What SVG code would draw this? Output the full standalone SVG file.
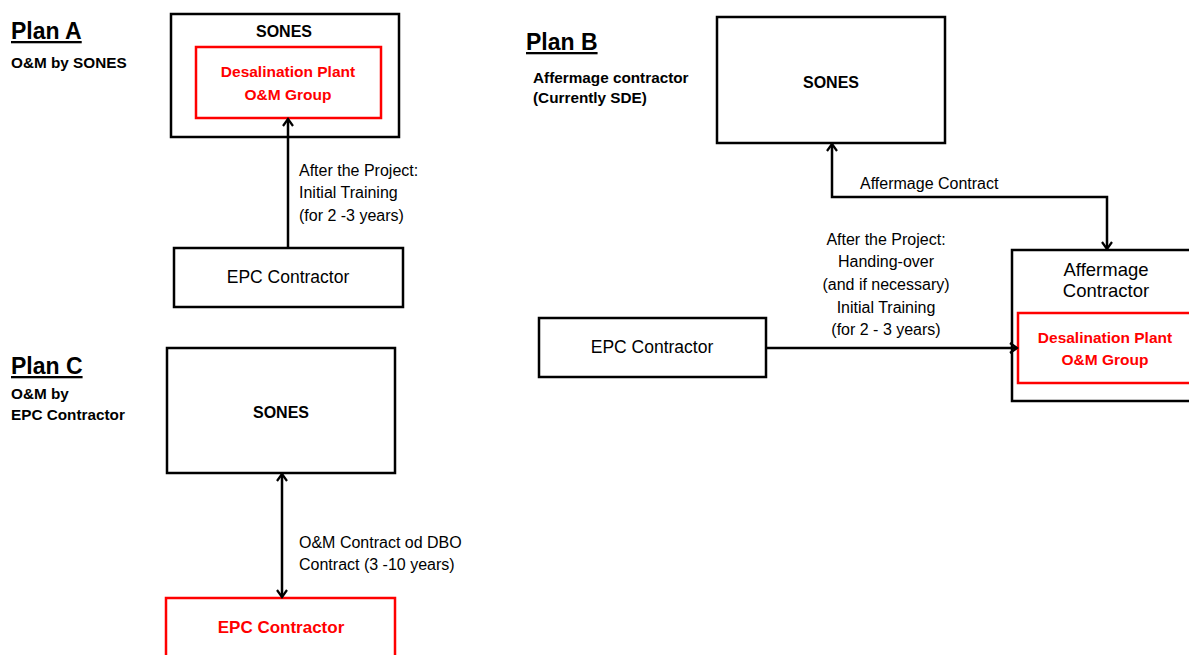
<svg xmlns="http://www.w3.org/2000/svg" width="1189" height="655" viewBox="0 0 1189 655">
  <style>
    .box { fill: #fff; stroke: #000; stroke-width: 2.5; }
    .rbox { fill: #fff; stroke: #ff0000; stroke-width: 2.5; }
    .t { font-family: "Liberation Sans", Arial, sans-serif; fill: #000; }
    .title { font-size: 23px; font-weight: bold; text-decoration: underline; }
    .sub { font-size: 15.3px; font-weight: bold; }
    .name { font-size: 16px; font-weight: bold; text-anchor: middle; }
    .red { font-size: 15.5px; font-weight: bold; fill: #ff0000; text-anchor: middle; }
    .node { font-size: 17.5px; text-anchor: middle; }
    .lbl { font-size: 16px; }
    .lblc { font-size: 16px; text-anchor: middle; }
    .wire { fill: none; stroke: #000; stroke-width: 2.5; }
  </style>
  <defs>
    <marker id="arrow" viewBox="-2 -7 11 14" refX="7" refY="0" markerWidth="11" markerHeight="14" orient="auto-start-reverse" markerUnits="userSpaceOnUse">
      <path d="M0,-5 L7,0 L0,5" fill="none" stroke="#000" stroke-width="2.2"/>
    </marker>
  </defs>

  <!-- Plan A -->
  <g id="planA-heading">
    <text class="t title" x="11" y="39">Plan A</text>
    <text class="t sub" x="11" y="68">O&amp;M by SONES</text>
  </g>
  <g id="planA-sones">
    <rect class="box" x="171" y="14" width="228" height="123"/>
    <text class="t name" x="284" y="37">SONES</text>
  </g>
  <g id="planA-om-group">
    <rect class="rbox" x="196" y="47" width="185" height="71"/>
    <text class="t red" x="288" y="77">Desalination Plant</text>
    <text class="t red" x="288" y="100">O&amp;M Group</text>
  </g>
  <g id="planA-epc">
    <rect class="box" x="174" y="248" width="229" height="59"/>
    <text class="t node" x="288" y="283">EPC Contractor</text>
  </g>

  <!-- Plan B -->
  <g id="planB-heading">
    <text class="t title" x="526" y="50">Plan B</text>
    <text class="t sub" x="533" y="83">Affermage contractor</text>
    <text class="t sub" x="533" y="103">(Currently SDE)</text>
  </g>
  <g id="planB-sones">
    <rect class="box" x="717" y="17" width="228" height="126"/>
    <text class="t name" x="831" y="88">SONES</text>
  </g>
  <g id="planB-affermage">
    <rect class="box" x="1012" y="250" width="190" height="151"/>
    <text class="t node" x="1106" y="276" style="font-size:18.5px">Affermage</text>
    <text class="t node" x="1106" y="297" style="font-size:18.5px">Contractor</text>
  </g>
  <g id="planB-om-group">
    <rect class="rbox" x="1018" y="313" width="184" height="70"/>
    <text class="t red" x="1105" y="343">Desalination Plant</text>
    <text class="t red" x="1105" y="365">O&amp;M Group</text>
  </g>
  <g id="planB-epc">
    <rect class="box" x="539" y="318" width="227" height="59"/>
    <text class="t node" x="652" y="353">EPC Contractor</text>
  </g>

  <!-- Plan C -->
  <g id="planC-heading">
    <text class="t title" x="11" y="374">Plan C</text>
    <text class="t sub" x="11" y="399">O&amp;M by</text>
    <text class="t sub" x="11" y="420">EPC Contractor</text>
  </g>
  <g id="planC-sones">
    <rect class="box" x="167" y="348" width="228" height="125"/>
    <text class="t name" x="281" y="418">SONES</text>
  </g>
  <g id="planC-epc">
    <rect class="rbox" x="166" y="598" width="229" height="70"/>
    <text class="t red" x="281" y="633" style="font-size:17px">EPC Contractor</text>
  </g>

  <!-- Connectors -->
  <g id="connectors">
    <line class="wire" x1="288" y1="248" x2="288" y2="119" marker-end="url(#arrow)"/>
    <text class="t lbl" x="299" y="176">After the Project:</text>
    <text class="t lbl" x="299" y="198">Initial Training</text>
    <text class="t lbl" x="299" y="221">(for 2 -3 years)</text>

    <polyline class="wire" points="832,144 832,197 1107,197 1107,249" marker-start="url(#arrow)" marker-end="url(#arrow)"/>
    <text class="t lbl" x="860" y="189">Affermage Contract</text>

    <line class="wire" x1="766" y1="348" x2="1017" y2="348" marker-end="url(#arrow)"/>
    <text class="t lblc" x="886" y="245">After the Project:</text>
    <text class="t lblc" x="886" y="267">Handing-over</text>
    <text class="t lblc" x="886" y="290">(and if necessary)</text>
    <text class="t lblc" x="886" y="313">Initial Training</text>
    <text class="t lblc" x="886" y="335">(for 2 - 3 years)</text>

    <line class="wire" x1="282" y1="474" x2="282" y2="597" marker-start="url(#arrow)" marker-end="url(#arrow)"/>
    <text class="t lbl" x="299" y="548">O&amp;M Contract od DBO</text>
    <text class="t lbl" x="299" y="570">Contract (3 -10 years)</text>
  </g>
</svg>
